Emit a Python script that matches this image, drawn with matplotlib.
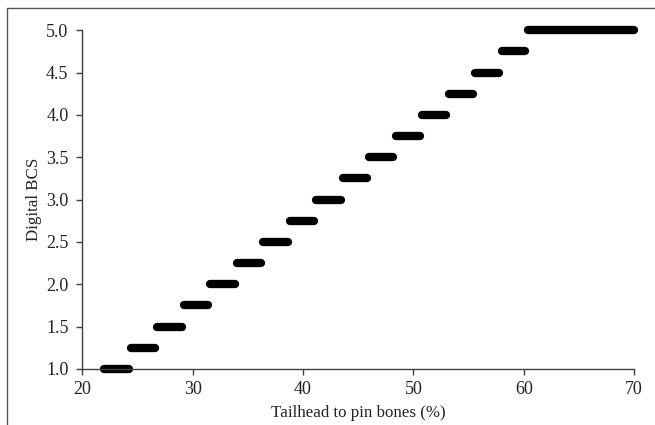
import numpy as np
import matplotlib.pyplot as plt
from matplotlib.patches import Rectangle

# digital BCS levels and the tailhead-to-pin-bones range each one covers
bcs = [1.0, 1.25, 1.5, 1.75, 2.0, 2.25, 2.5, 2.75, 3.0, 3.25, 3.5, 3.75,
       4.0, 4.25, 4.5, 4.75, 5.0]
x_start = [22.0, 24.4, 26.8, 29.2, 31.6, 34.0, 36.4, 38.8, 41.2, 43.6, 46.0,
           48.4, 50.8, 53.2, 55.6, 58.0, 60.4]
x_end = [24.2, 26.6, 29.0, 31.4, 33.8, 36.2, 38.6, 41.0, 43.4, 45.8, 48.2,
         50.6, 53.0, 55.4, 57.8, 60.1, 70.0]

x_ticks = [20, 30, 40, 50, 60, 70]
y_ticks = [1.0, 1.5, 2.0, 2.5, 3.0, 3.5, 4.0, 4.5, 5.0]

plt.rcParams['font.family'] = ['Liberation Serif', 'DejaVu Serif']

fig = plt.figure(figsize=(6.55, 4.25), dpi=100)
ax = fig.add_axes([0.1257, 0.132, 0.8423, 0.797])

for y, x0, x1 in zip(bcs, x_start, x_end):
    ax.plot([x0, x1], [y, y], color='black', linewidth=6, solid_capstyle='round',
            clip_on=False)

ax.set_xlim(20, 70)
ax.set_ylim(1.0, 5.0)
ax.set_xticks(x_ticks)
ax.set_yticks(y_ticks)
ax.set_yticklabels([f'{v:.1f}' for v in y_ticks])
ax.tick_params(direction='out', length=4, width=1, colors='#404040',
               labelsize=13, labelcolor='#222222')
ax.tick_params(axis='y', pad=6)
ax.tick_params(axis='x', pad=5)
for side in ['top', 'right']:
    ax.spines[side].set_visible(False)
for side in ['left', 'bottom']:
    ax.spines[side].set_color('#404040')
    ax.spines[side].set_linewidth(1)

ax.set_xlabel('Tailhead to pin bones (%)', fontsize=12.2, color='#222222', labelpad=5)
ax.set_ylabel('Digital BCS', fontsize=12.2, color='#222222', labelpad=3)

# outer frame, cropped at right and bottom like the original
fig.patches.append(Rectangle((7 / 655, -0.05), 1.1, 1 - 8 / 425 + 0.05,
                             transform=fig.transFigure, fill=False,
                             edgecolor='#555555', linewidth=1))

fig.savefig('out.png', dpi=100)
